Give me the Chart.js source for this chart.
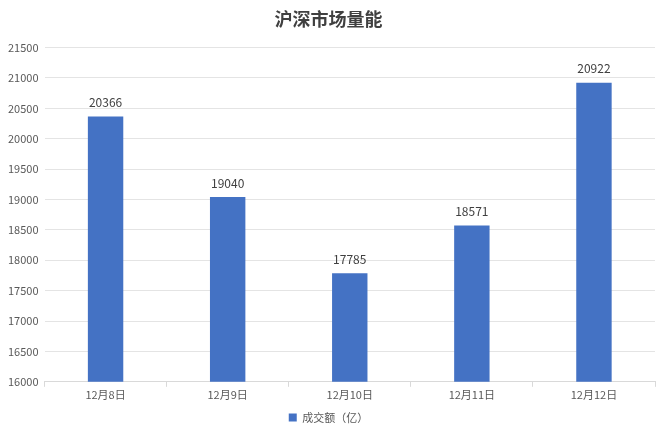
<!DOCTYPE html>
<html>
<head>
<meta charset="utf-8">
<script src="https://cdn.jsdelivr.net/npm/chart.js@4"></script>
<style>
  html, body { margin: 0; padding: 0; background: #fff; }
  #wrap { width: 660px; height: 440px; }
</style>
</head>
<body>
<div id="wrap"><canvas id="chart"></canvas></div>
<script>
const categories = ["12月8日", "12月9日", "12月10日", "12月11日", "12月12日"];
const turnover = [20366, 19040, 17785, 18571, 20922];
const seriesName = "成交额（亿）";
const chartTitle = "沪深市场量能";

const barLabels = {
  id: "barLabels",
  afterDatasetsDraw(chart) {
    const ctx = chart.ctx;
    const meta = chart.getDatasetMeta(0);
    ctx.save();
    ctx.font = "12px 'Noto Sans CJK SC', sans-serif";
    ctx.fillStyle = "#404040";
    ctx.textAlign = "center";
    ctx.textBaseline = "bottom";
    meta.data.forEach((bar, i) => {
      ctx.fillText(String(turnover[i]), bar.x, bar.y - 8);
    });
    ctx.restore();
  },
};

new Chart(document.getElementById("chart").getContext("2d"), {
  type: "bar",
  data: {
    labels: categories,
    datasets: [
      {
        label: seriesName,
        data: turnover,
        backgroundColor: "#4472C4",
        barPercentage: 0.58,
        categoryPercentage: 0.5,
      },
    ],
  },
  options: {
    responsive: true,
    maintainAspectRatio: false,
    animation: false,
    layout: { padding: { left: 2, right: 5, top: 4, bottom: 7 } },
    scales: {
      x: {
        grid: {
          drawOnChartArea: false,
          drawTicks: true,
          tickLength: 5,
          color: "#d9d9d9",
        },
        border: { color: "#d9d9d9" },
        ticks: {
          color: "#595959",
          font: { size: 11, family: "'Noto Sans CJK SC', sans-serif" },
          padding: 1,
        },
      },
      y: {
        min: 16000,
        max: 21500,
        ticks: {
          stepSize: 500,
          color: "#595959",
          font: { size: 11, family: "'Noto Sans CJK SC', sans-serif" },
          padding: 6,
          callback: (v) => String(v),
        },
        grid: { color: "#e4e4e4", drawTicks: false },
        border: { display: false },
      },
    },
    plugins: {
      title: {
        display: true,
        text: chartTitle,
        color: "#404040",
        font: { size: 18, weight: "bold", family: "'Noto Sans CJK SC', serif" },
        padding: { top: 4, bottom: 18 },
      },
      legend: {
        position: "bottom",
        labels: {
          boxWidth: 8,
          boxHeight: 8,
          padding: 10,
          color: "#595959",
          font: { size: 11, family: "'Noto Sans CJK SC', sans-serif" },
        },
      },
      tooltip: { enabled: false },
    },
  },
  plugins: [barLabels],
});
</script>
</body>
</html>
